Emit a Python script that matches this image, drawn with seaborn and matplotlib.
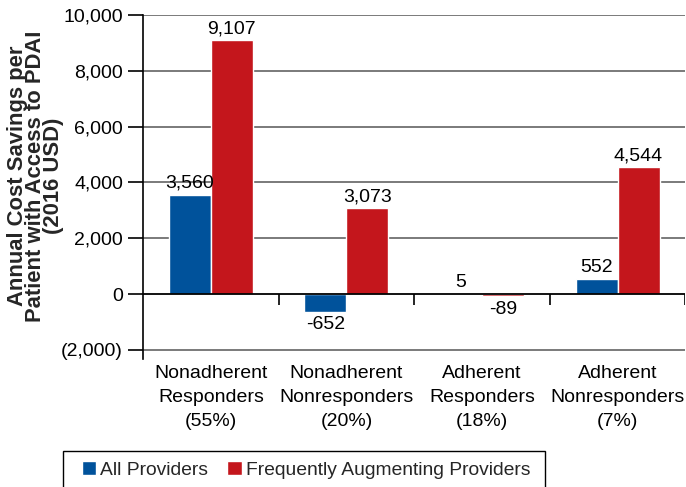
import matplotlib
matplotlib.use("Agg")
import matplotlib.pyplot as plt
from matplotlib.patches import Rectangle
import seaborn as sns
import pandas as pd

categories = ["Nonadherent\nResponders\n(55%)", "Nonadherent\nNonresponders\n(20%)",
              "Adherent\nResponders\n(18%)", "Adherent\nNonresponders\n(7%)"]
series_names = ["All Providers", "Frequently Augmenting Providers"]
all_providers = [3560, -652, 5, 552]
freq_augmenting = [9107, 3073, -89, 4544]
yticks = [-2000, 0, 2000, 4000, 6000, 8000, 10000]
ytick_labels = ["(2,000)", "0", "2,000", "4,000", "6,000", "8,000", "10,000"]

df = pd.DataFrame({
    "category": categories * 2,
    "series": [series_names[0]] * 4 + [series_names[1]] * 4,
    "value": all_providers + freq_augmenting,
})

sns.set_theme(style="white")
plt.rcParams["font.family"] = ["Liberation Sans", "DejaVu Sans"]

fig = plt.figure(figsize=(6.86, 4.87), dpi=100)
ax = fig.add_axes([0.2085, 0.2628, 0.7905, 0.7064])

palette = {series_names[0]: "#00529B", series_names[1]: "#C4161C"}
sns.barplot(data=df, x="category", y="value", hue="series", order=categories,
            hue_order=series_names, palette=palette, width=0.62, saturation=1,
            ax=ax, zorder=3, legend=True)

ax.set_xlim(-0.5, 3.5)
ax.set_ylim(-2330, 10000)
ax.set_yticks(yticks)
ax.set_yticklabels(ytick_labels, fontsize=14)
for y in yticks:
    if y != 0:
        ax.axhline(y, color="#7a7a7a", lw=1.4, zorder=1)
ax.axhline(0, color="black", lw=1.3, zorder=4)
ax.vlines([0.5, 1.5, 2.5, 3.5], -400, 0, color="black", lw=1.2, zorder=4)

for s in ["top", "right", "bottom"]:
    ax.spines[s].set_visible(False)
ax.spines["left"].set_color("black")
ax.spines["left"].set_linewidth(1.2)
ax.tick_params(axis="y", which="both", left=True, length=11, width=1.2,
               color="black", direction="out", pad=3.5, labelcolor="black")
ax.tick_params(axis="x", length=0, pad=4, labelsize=14, labelcolor="black")
ax.set_xticks(range(len(categories)))
ax.set_xticklabels(categories, fontsize=14, linespacing=1.55)
ax.set_xlabel("")
ax.set_ylabel("Annual Cost Savings per\nPatient with Access to PDAI\n(2016 USD)",
              fontsize=15.8, fontweight="bold", linespacing=0.8)
# place label: right edge near x=64px, centred at y=176px (figure pixels)
ax.yaxis.set_label_coords(64 / 686, 1 - 176 / 487, transform=fig.transFigure)

for cont in ax.containers:
    for bar in cont:
        v = bar.get_height()
        x = bar.get_x() + bar.get_width() / 2
        if v >= 0:
            ax.annotate(f"{v:,.0f}", (x, v), xytext=(0, 2), textcoords="offset points",
                        ha="center", va="bottom", fontsize=14, color="black", zorder=5)
        else:
            ax.annotate(f"{v:,.0f}", (x, v), xytext=(0, -3), textcoords="offset points",
                        ha="center", va="top", fontsize=14, color="black", zorder=5)

handles, labels = ax.get_legend_handles_labels()
ax.legend_.remove()
leg = fig.legend(handles, labels, loc="center left", bbox_to_anchor=(82 / 686, 1 - 470 / 487),
                 ncol=2, frameon=False, fontsize=13.9,
                 handlelength=0.74, handleheight=0.74, handletextpad=0.2,
                 columnspacing=1.0, borderpad=0, borderaxespad=0)
fig.patches.append(Rectangle((63 / 686, -0.05), (545 - 63) / 686, 0.05 + (487 - 451) / 487,
                             transform=fig.transFigure, fill=False, edgecolor="black",
                             linewidth=1.0))

fig.savefig("out.png", dpi=100)
